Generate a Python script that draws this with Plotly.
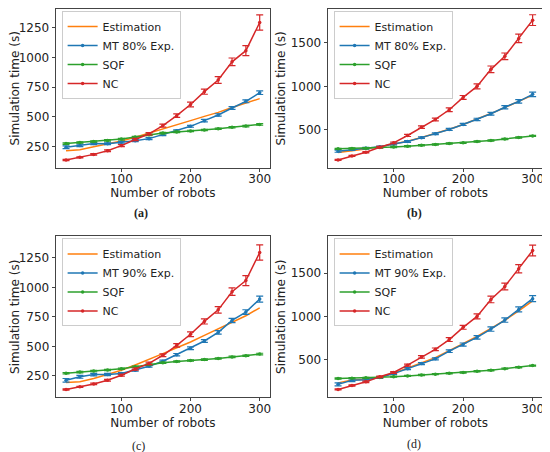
import plotly.graph_objects as go

# robots in the simulation
robots = [20, 40, 60, 80, 100, 120, 140, 160, 180, 200, 220, 240, 260, 280, 300]

# simulation time (s), panels (a)/(c) share NC and SQF, panels (b)/(d) too
nc_ac = [135, 157, 182, 213, 256, 308, 356, 425, 509, 603, 712, 810, 964, 1058, 1296]
nc_ac_err = [5, 5, 6, 7, 8, 9, 10, 12, 15, 20, 22, 28, 32, 42, 65]
sqf_ac = [273, 282, 291, 300, 311, 328, 347, 362, 372, 380, 388, 398, 411, 421, 435]
sqf_ac_err = [6, 6, 6, 6, 6, 6, 6, 6, 6, 6, 6, 6, 6, 6, 7]

nc_bd = [154, 200, 242, 300, 350, 435, 531, 619, 731, 873, 1000, 1196, 1346, 1552, 1762]
nc_bd_err = [6, 7, 8, 9, 10, 12, 14, 15, 22, 22, 28, 38, 38, 48, 62]
sqf_bd = [281, 285, 288, 296, 302, 311, 322, 331, 342, 350, 365, 377, 395, 411, 430]
sqf_bd_err = [7, 7, 7, 7, 7, 7, 7, 7, 7, 7, 7, 7, 7, 7, 7]

# multi-threshold experiments and estimations
mt80_a = [242, 258, 274, 272, 284, 298, 315, 349, 382, 419, 467, 515, 574, 630, 703]
mt80_a_err = [12, 10, 10, 8, 8, 8, 8, 8, 8, 8, 10, 10, 12, 12, 15]
est80_a = [213, 222, 247, 270, 295, 326, 360, 396, 433, 467, 503, 537, 578, 613, 653]

mt80_b = [254, 273, 288, 304, 338, 365, 410, 454, 504, 562, 619, 685, 760, 827, 908]
mt80_b_err = [12, 10, 10, 10, 10, 10, 10, 10, 12, 12, 14, 16, 18, 20, 25]
est80_b = [240, 258, 280, 305, 335, 368, 412, 457, 507, 562, 622, 687, 757, 828, 900]

mt90_c = [213, 242, 261, 262, 270, 298, 332, 374, 430, 484, 546, 619, 720, 791, 901]
mt90_c_err = [15, 12, 10, 10, 8, 8, 8, 10, 10, 12, 12, 15, 18, 20, 25]
est90_c = [194, 200, 228, 261, 298, 343, 388, 439, 489, 537, 594, 647, 704, 760, 827]

mt90_d = [213, 260, 267, 291, 337, 395, 453, 508, 597, 674, 756, 853, 957, 1081, 1205]
mt90_d_err = [18, 15, 15, 10, 10, 12, 12, 12, 15, 18, 20, 25, 25, 30, 35]
est90_d = [230, 262, 272, 297, 342, 402, 462, 522, 602, 683, 767, 862, 955, 1065, 1180]

panels = [
    ("a", "MT 80% Exp.", est80_a, mt80_a, mt80_a_err, sqf_ac, sqf_ac_err, nc_ac, nc_ac_err),
    ("b", "MT 80% Exp.", est80_b, mt80_b, mt80_b_err, sqf_bd, sqf_bd_err, nc_bd, nc_bd_err),
    ("c", "MT 90% Exp.", est90_c, mt90_c, mt90_c_err, sqf_ac, sqf_ac_err, nc_ac, nc_ac_err),
    ("d", "MT 90% Exp.", est90_d, mt90_d, mt90_d_err, sqf_bd, sqf_bd_err, nc_bd, nc_bd_err),
]

# the page body adds an 8px margin, so the figure is drawn 8px smaller
W, H = 542, 444
# plot boxes in figure pixels: left, right, top, bottom
boxes = [(45, 261, 0, 159), (319, 536, 0, 159), (45, 261, 228, 389), (319, 536, 228, 389)]
yranges = [[70, 1410], [65, 1890], [70, 1432], [65, 1925]]
yticks = [[250, 500, 750, 1000, 1250], [500, 1000, 1500],
          [250, 500, 750, 1000, 1250], [500, 1000, 1500]]
captions = [(131, 204), (407, 204), (128, 438), (406, 436)]

BLUE, ORANGE, GREEN, RED = "#1f77b4", "#ff7f0e", "#2ca02c", "#d62728"
FONT = "DejaVu Sans"
TXT = "#222222"

fig = go.Figure()
layout = {}
annotations = []

for i, (tag, mtname, est, mt, mt_err, sqf, sqf_err, nc, nc_err) in enumerate(panels):
    n = i + 1
    xa = "x" if n == 1 else "x%d" % n
    ya = "y" if n == 1 else "y%d" % n
    lg = "legend" if n == 1 else "legend%d" % n

    fig.add_trace(go.Scatter(x=robots, y=est, mode="lines", name="Estimation",
                             line=dict(color=ORANGE, width=1.5),
                             xaxis=xa, yaxis=ya, legend=lg))
    for name, vals, err, col in [(mtname, mt, mt_err, BLUE),
                                 ("SQF", sqf, sqf_err, GREEN),
                                 ("NC", nc, nc_err, RED)]:
        fig.add_trace(go.Scatter(
            x=robots, y=vals, mode="lines+markers", name=name,
            line=dict(color=col, width=1.5),
            marker=dict(color=col, size=3.5),
            error_y=dict(type="data", array=err, color=col, thickness=1.2, width=3.5),
            xaxis=xa, yaxis=ya, legend=lg))

    l, r, t, b = boxes[i]
    axkey = "" if n == 1 else str(n)
    common = dict(showline=True, mirror=True, linecolor="#444444", linewidth=1,
                  ticks="outside", ticklen=3, tickwidth=1, tickcolor="#444444",
                  showgrid=False, zeroline=False,
                  tickfont=dict(family=FONT, size=12, color=TXT))
    layout["xaxis" + axkey] = dict(
        common, domain=[l / W, r / W], anchor=ya, range=[5, 315],
        tickvals=[100, 200, 300], ticklabelstandoff=-3,
        title=dict(text="Number of robots", standoff=0,
                   font=dict(family=FONT, size=12, color=TXT)))
    layout["yaxis" + axkey] = dict(
        common, domain=[1 - b / H, 1 - t / H], anchor=xa, range=yranges[i],
        tickvals=yticks[i],
        title=dict(text="Simulation time (s)", standoff=2,
                   font=dict(family=FONT, size=12, color=TXT)))
    layout[lg] = dict(
        x=(l + 6) / W, y=1 - (t + 2) / H, xanchor="left", yanchor="top",
        bgcolor="rgba(255,255,255,0.8)", bordercolor="#cccccc", borderwidth=1,
        font=dict(family=FONT, size=11, color=TXT), itemwidth=30,
        tracegroupgap=0, traceorder="normal")

    cx, cy = captions[i]
    annotations.append(dict(
        text="<b>(%s)</b>" % tag if tag in "ab" else "(%s)" % tag,
        x=cx / W, y=1 - cy / H, xref="paper", yref="paper",
        xanchor="center", yanchor="middle",
        showarrow=False, font=dict(family="Liberation Serif", size=12, color=TXT)))

fig.update_layout(
    width=W, height=H, margin=dict(l=0, r=0, t=0, b=0),
    paper_bgcolor="white", plot_bgcolor="white",
    annotations=annotations, **layout)

fig.write_html("out.html")
